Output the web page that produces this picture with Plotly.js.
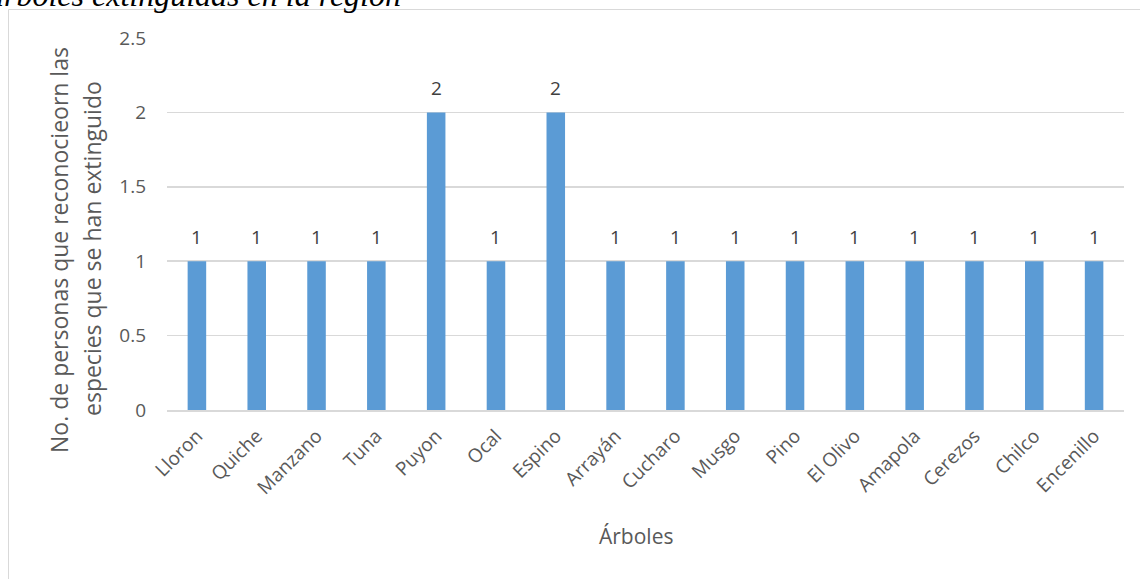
<!DOCTYPE html>
<html>
<head>
<meta charset="utf-8">
<script src="https://cdn.plot.ly/plotly-3.0.1.min.js"></script>
<style>html,body{margin:0;padding:0;background:#fff;}#chart{width:1140px;height:579px;}</style>
</head>
<body>
<div id="chart"></div>
<script>
const categories = ["Lloron","Quiche","Manzano","Tuna","Puyon","Ocal","Espino","Arrayán","Cucharo","Musgo","Pino","El Olivo","Amapola","Cerezos","Chilco","Encenillo"];
const values = [1,1,1,1,2,1,2,1,1,1,1,1,1,1,1,1];
const yTitleLines = ["No. de personas que reconocieorn las","especies que se han extinguido"];
const xTitle = "Árboles";
const topCaption = "árboles extinguidas en la región";

const FONT = "Open Sans, sans-serif";
const W = 1140, H = 579;
const L = 167, R = 16, T = 38, B = 169;
const pw = W - L - R, ph = H - T - B;
const px = x => (x - L) / pw;
const py = y => (H - B - y) / ph;

const annotations = categories.map((c, i) => ({
  x: c, y: values[i], xref: 'x', yref: 'y',
  text: String(values[i]), showarrow: false,
  yanchor: 'middle', yshift: 24,
  font: {family: FONT, size: 19, color: '#404040'}
}));
annotations.push({
  x: px(59), y: py(250), xref: 'paper', yref: 'paper',
  text: yTitleLines[0], textangle: -90, showarrow: false,
  xanchor: 'center', yanchor: 'middle',
  font: {family: FONT, size: 23, color: '#595959'}
});
annotations.push({
  x: px(92), y: py(249), xref: 'paper', yref: 'paper',
  text: yTitleLines[1], textangle: -90, showarrow: false,
  xanchor: 'center', yanchor: 'middle',
  font: {family: FONT, size: 23, color: '#595959'}
});
annotations.push({
  x: px(636), y: py(536), xref: 'paper', yref: 'paper',
  text: xTitle, showarrow: false, xanchor: 'center', yanchor: 'middle',
  font: {family: FONT, size: 21, color: '#595959'}
});
annotations.push({
  x: px(403), y: py(-5), xref: 'paper', yref: 'paper',
  text: '<i>' + topCaption + '</i>', showarrow: false, xanchor: 'right', yanchor: 'middle',
  font: {family: "Liberation Serif, Times New Roman, serif", size: 32, color: '#000000'}
});

const data = [{
  type: 'bar', x: categories, y: values,
  marker: {color: '#5b9bd5'},
  hoverinfo: 'skip'
}];

const layout = {
  width: W, height: H,
  margin: {l: L, r: R, t: T, b: B, pad: 0},
  paper_bgcolor: '#ffffff', plot_bgcolor: '#ffffff',
  showlegend: false,
  bargap: 0.69,
  xaxis: {
    type: 'category', tickangle: -45, showgrid: false,
    showline: true, linecolor: '#d9d9d9', linewidth: 1.5,
    ticks: '', ticklabelstandoff: 6,
    tickfont: {family: FONT, size: 19, color: '#595959'},
    zeroline: false, fixedrange: true
  },
  yaxis: {
    range: [0, 2.5], dtick: 0.5, tick0: 0,
    showgrid: true, gridcolor: '#d9d9d9', gridwidth: 1.5,
    zeroline: false, showline: false, ticks: '',
    ticklabelstandoff: 20,
    tickfont: {family: FONT, size: 19, color: '#595959'},
    fixedrange: true
  },
  annotations: annotations,
  shapes: [{
    type: 'rect', xref: 'paper', yref: 'paper',
    x0: px(8.5), x1: px(1160), y0: py(620), y1: py(9.5),
    line: {color: '#d9d9d9', width: 1}, fillcolor: 'rgba(0,0,0,0)', layer: 'below'
  }]
};

Plotly.newPlot('chart', data, layout, {displayModeBar: false, staticPlot: true});
</script>
</body>
</html>
